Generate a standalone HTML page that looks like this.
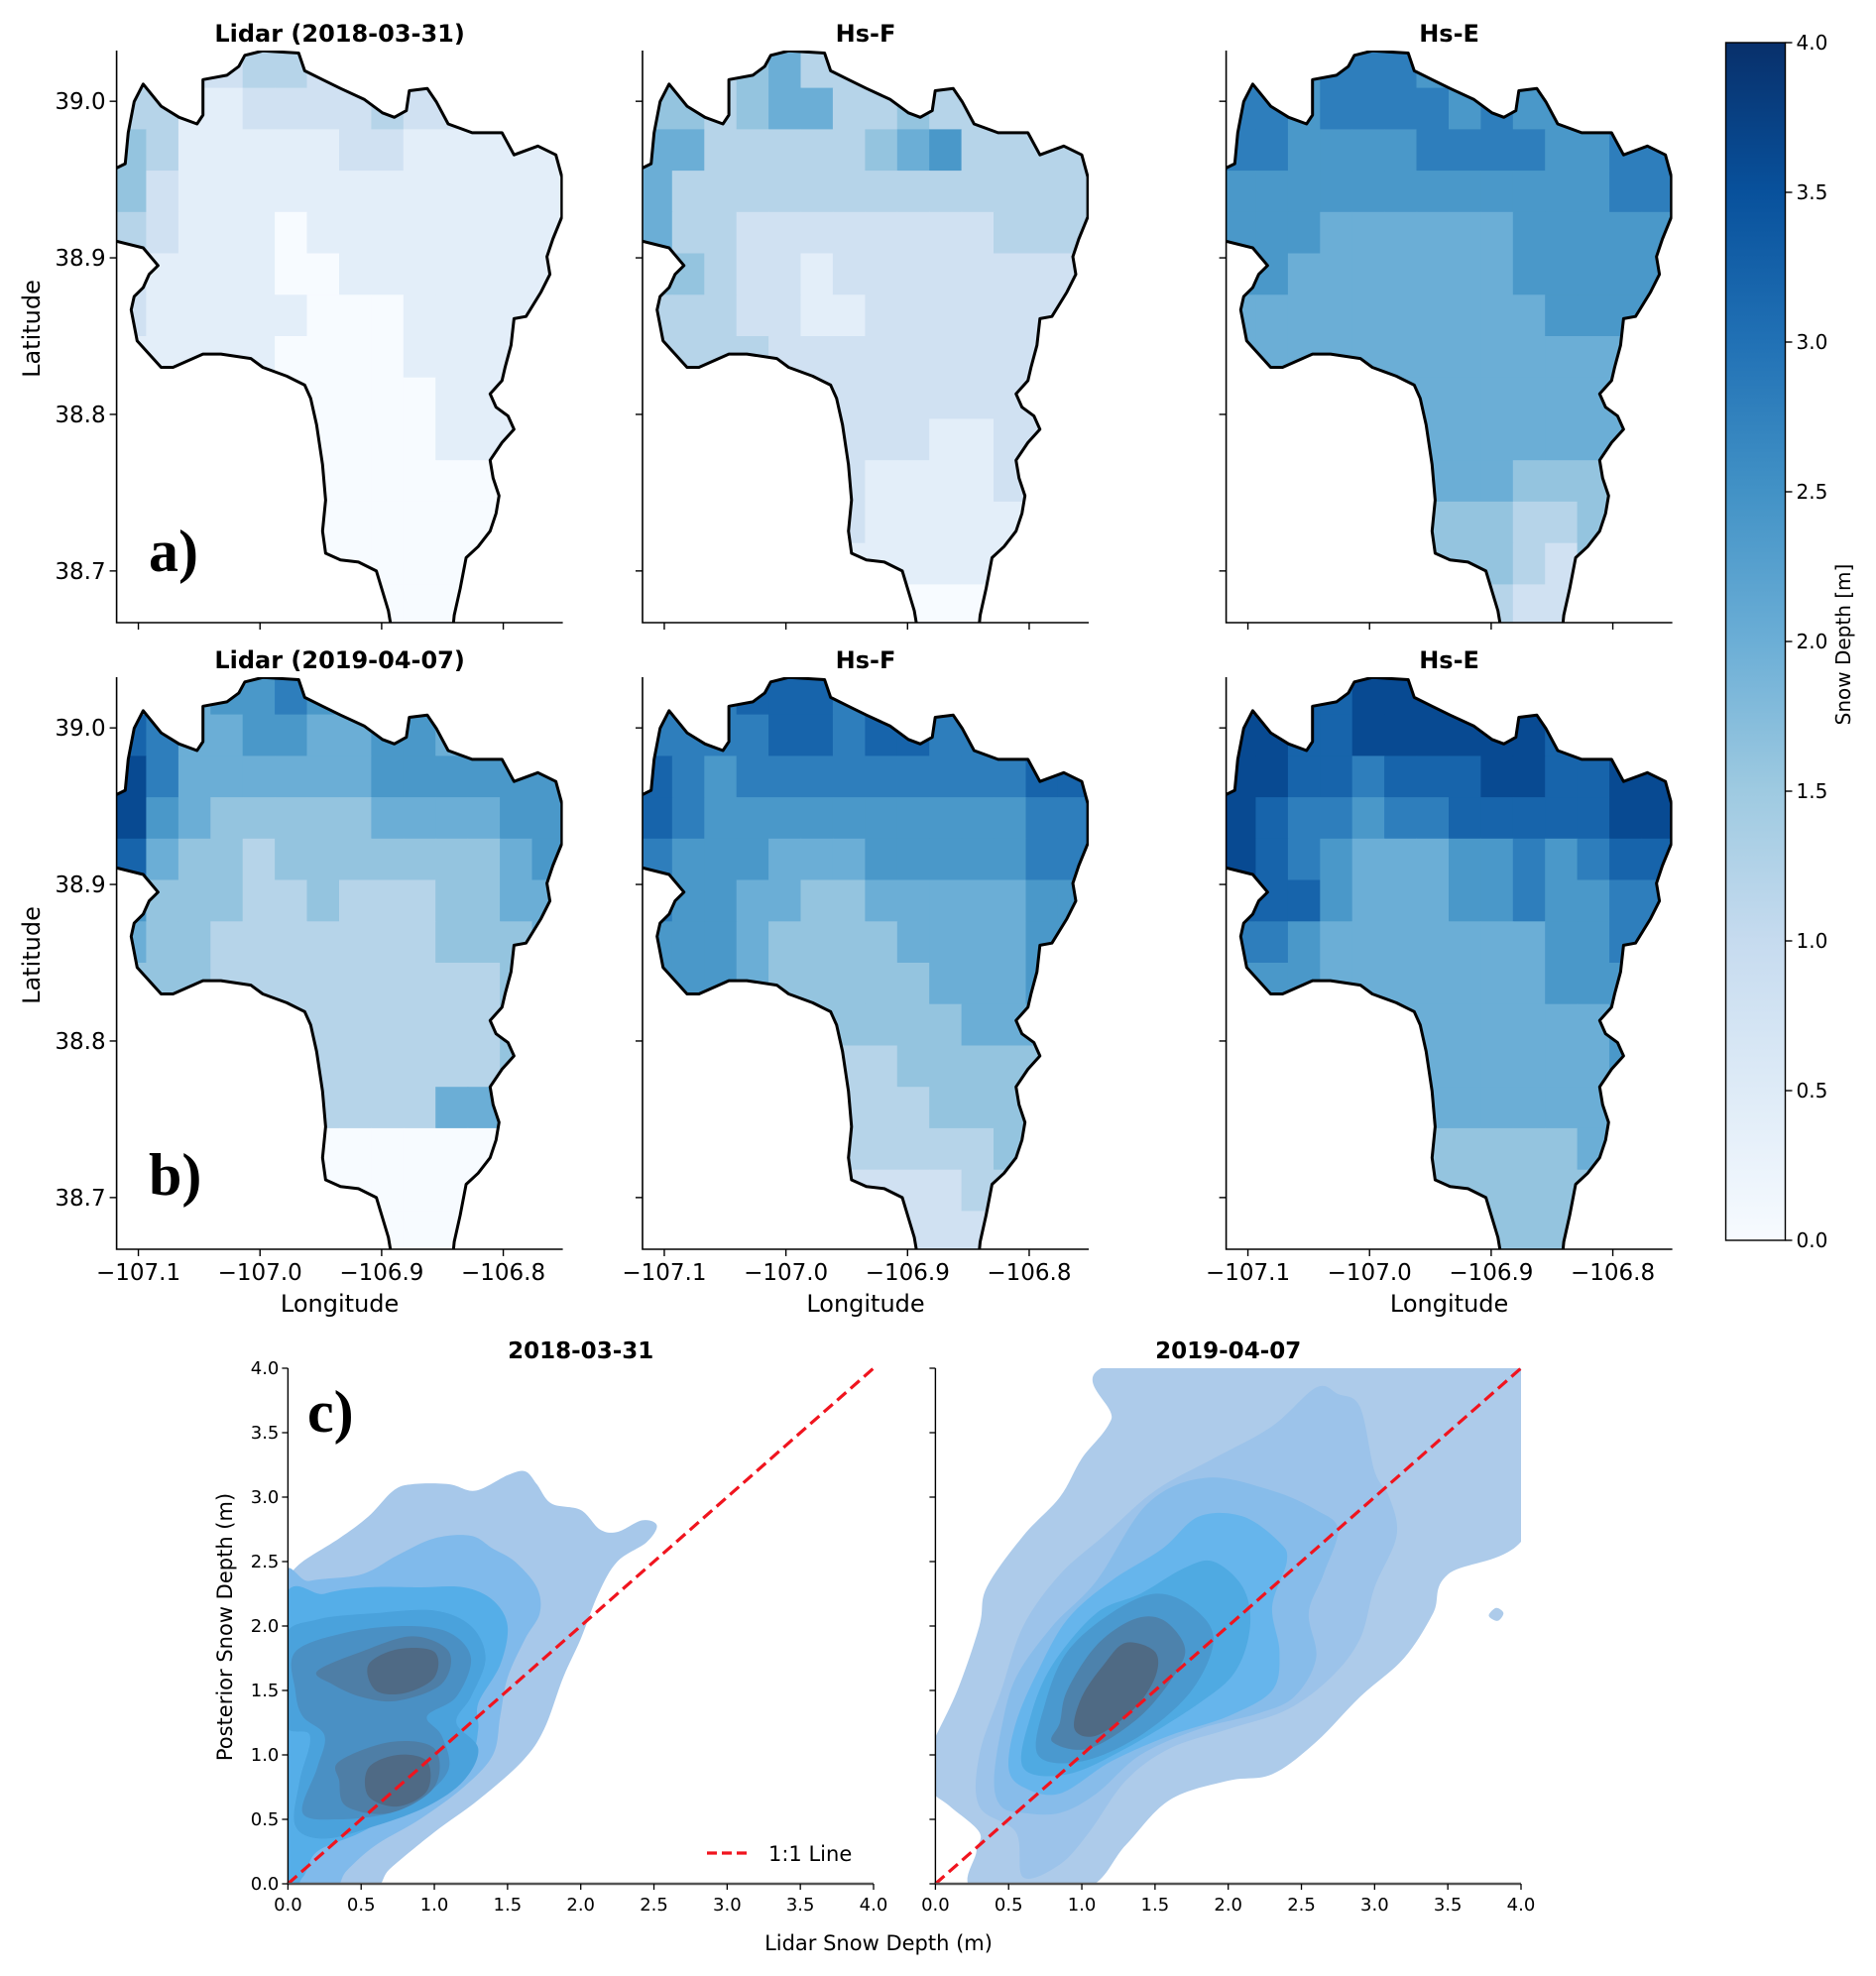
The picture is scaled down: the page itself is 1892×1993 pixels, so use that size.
<!DOCTYPE html>
<html><head><meta charset="utf-8">
<style>
html,body{margin:0;padding:0;background:#fff}
svg{display:block}
text{font-family:"DejaVu Sans","Liberation Sans",sans-serif;fill:#000}
</style></head>
<body>
<svg id="fig" width="1892" height="1993" viewBox="0 0 1892 1993" xmlns="http://www.w3.org/2000/svg">
<defs>
<linearGradient id="bluesGrad" x1="0" y1="1" x2="0" y2="0">
<stop offset="0" stop-color="#f7fbff"/><stop offset="0.125" stop-color="#deebf7"/><stop offset="0.25" stop-color="#c6dbef"/><stop offset="0.375" stop-color="#9ecae1"/><stop offset="0.5" stop-color="#6baed6"/><stop offset="0.625" stop-color="#4292c6"/><stop offset="0.75" stop-color="#2171b5"/><stop offset="0.875" stop-color="#08519c"/><stop offset="1" stop-color="#08306b"/>
</linearGradient>
</defs>
</svg>
<script>
// ---------- data ----------
const lonTicks = [-107.1, -107.0, -106.9, -106.8];
const latTicks = [38.7, 38.8, 38.9, 39.0];
const cbarTicks = [0, 0.5, 1, 1.5, 2, 2.5, 3, 3.5, 4];
const kdeTicks = [0, 0.5, 1, 1.5, 2, 2.5, 3, 3.5, 4];
const mapTitles = ["Lidar (2018-03-31)", "Hs-F", "Hs-E", "Lidar (2019-04-07)", "Hs-F", "Hs-E"];
// snow depth grids, digit d => d*0.4 m; rows north->south, cols west->east
const lidar2018 = ["11223322111111","33112222322111","43111112211111","42111111111111","32111011111111","21111001111111","21111100011111","11111000011111","11111000001111","11111000001111","00000000000000","00000000000000","00000000000000","00000000000000"];
const hsF2018 = ["33345333333333","44345533433333","55333334563333","53333333333333","53322222222333","44322122222222","33322112222222","33332222222222","22233222222222","22222222211222","22222221111222","22222221111122","11111111111111","11111111000111"];
const hsE2018 = ["66677766666666","77677776766666","77666677776677","66666666666677","66655555566666","66555555566666","55555555556666","55555555555555","55555555555555","55555555555555","44445555544444","44444444433444","44444444432444","33333333322333"];
const lidar2019 = ["55566766555555","87556655665555","97555555666666","96544444555566","85443444444456","64443343334455","54433333334445","44433333333344","44443333333344","44443333333344","33333333335533","11111100000000","00000000000000","00000000000000"];
const hsF2019 = ["77788877777777","77778878877777","87677777777788","87666666666677","76665556666677","76655445555566","66654444555566","66654444455566","55554444445555","44444433444444","44443333344444","44443333333444","33333222223333","22222222222222"];
const hsE2019 = ["88889999888888","99889999998888","99887888998899","98776778888899","98765556676788","88865556676677","77655555556677","66655555556666","66655555555566","66655555555566","55555555555555","55555444444555","44444444444444","44444444444444"];
// basin outline trace (lon/lat derived from map)
const outlineTrace = [[240,190],[270,240],[300,265],[330,280],[340,260],[340,180],[380,170],[400,150],[410,125],[440,115],[500,120],[510,160],[540,180],[570,200],[610,225],[640,255],[660,265],[680,250],[685,205],[715,200],[730,230],[750,280],[790,300],[840,300],[860,350],[900,330],[930,350],[940,400],[940,490],[925,540],[915,580],[920,620],[905,660],[880,715],[860,720],[855,780],[845,830],[840,860],[820,890],[830,920],[850,940],[860,970],[840,1000],[820,1040],[825,1080],[835,1120],[830,1160],[820,1200],[800,1235],[780,1260],[770,1330],[760,1390],[755,1460],[660,1460],[650,1380],[630,1290],[600,1270],[570,1265],[545,1250],[540,1200],[545,1130],[540,1050],[530,960],[520,900],[510,870],[480,850],[440,830],[420,810],[370,800],[340,800],[290,830],[270,830],[250,800],[230,770],[220,700],[225,670],[240,650],[250,620],[265,600],[240,560],[180,540],[180,390],[210,370],[215,300],[225,230]];
const basinLonLat = outlineTrace.map(p => [-107.1 + (p[0]/1.6575 - 140)/1226.7, 39.0 - (p[1]/2.24 - 102.2)/1579]);
// KDE contour levels (lidar depth, posterior depth)
const kde2018 = [
 [[0,2.38],[0.1,2.5],[0.35,2.68],[0.55,2.85],[0.72,3.05],[0.85,3.1],[1.1,3.1],[1.28,3.05],[1.5,3.17],[1.62,3.2],[1.7,3.1],[1.8,2.95],[2.0,2.9],[2.13,2.75],[2.25,2.73],[2.42,2.82],[2.52,2.78],[2.45,2.65],[2.25,2.5],[2.12,2.25],[2.0,1.9],[1.88,1.6],[1.75,1.2],[1.6,0.95],[1.3,0.65],[1.0,0.4],[0.7,0.12],[0.55,-0.05],[-0.05,-0.05],[-0.05,2.3]],
 [[-0.05,2.25],[0.15,2.35],[0.5,2.4],[0.75,2.55],[1.0,2.68],[1.25,2.7],[1.4,2.6],[1.55,2.5],[1.7,2.3],[1.72,2.1],[1.62,1.9],[1.5,1.6],[1.45,1.3],[1.4,1.0],[1.2,0.75],[0.9,0.5],[0.6,0.3],[0.4,0.1],[0.3,-0.05],[-0.05,-0.05]],
 [[-0.05,2.1],[0.25,2.25],[0.55,2.3],[0.9,2.3],[1.2,2.3],[1.4,2.2],[1.5,2.0],[1.45,1.7],[1.3,1.4],[1.3,1.2],[1.25,1.0],[1.05,0.8],[0.8,0.6],[0.5,0.4],[0.2,0.25],[0.1,0.05],[-0.05,-0.05]],
 [[-0.03,1.9],[0.2,2.05],[0.6,2.1],[1.0,2.12],[1.25,2.0],[1.35,1.75],[1.25,1.45],[1.15,1.25],[1.3,1.05],[1.2,0.8],[0.95,0.6],[0.6,0.45],[0.25,0.35],[0.05,0.45],[0.08,0.8],[0.15,1.15],[-0.03,1.25]],
 [[0.05,1.8],[0.4,1.95],[0.8,2.0],[1.1,1.95],[1.25,1.75],[1.15,1.45],[0.95,1.3],[1.05,1.15],[1.1,0.9],[0.95,0.7],[0.7,0.55],[0.35,0.5],[0.1,0.55],[0.2,0.9],[0.25,1.15],[0.1,1.3],[0.05,1.5]],
 [[0.2,1.65],[0.5,1.8],[0.85,1.92],[1.1,1.8],[1.05,1.55],[0.75,1.42],[0.5,1.45],[0.3,1.55]],
 [[0.35,0.95],[0.7,1.1],[1.0,1.05],[1.0,0.75],[0.7,0.55],[0.4,0.6],[0.35,0.8]],
 [[0.55,1.7],[0.75,1.82],[1.0,1.8],[1.0,1.6],[0.8,1.48],[0.6,1.5]],
 [[0.55,0.68],[0.55,0.9],[0.75,1.0],[0.95,0.95],[0.95,0.72],[0.75,0.6]]
];
const kde2018Colors = ["#a7c8ea","#80baeb","#55aee8","#4aa2dc","#4a90c4","#4e7ea6","#4e7ea6","#4f6a85","#4f6a85"];
const kde2019 = [
 [[0.27,-0.05],[0.28,0.25],[0.3,0.4],[0.1,0.6],[-0.05,0.75],[-0.05,1.0],[0.15,1.5],[0.3,2.0],[0.35,2.3],[0.6,2.7],[0.85,3.0],[1.0,3.3],[1.2,3.6],[1.3,4.05],[4.05,4.05],[4.05,2.75],[3.5,2.4],[3.4,2.1],[3.2,1.75],[2.9,1.45],[2.6,1.1],[2.3,0.85],[2.0,0.8],[1.6,0.65],[1.3,0.3],[1.0,-0.05]],
 [[0.6,0.05],[0.55,0.4],[0.3,0.6],[0.3,1.0],[0.45,1.5],[0.6,2.0],[0.85,2.4],[1.15,2.7],[1.5,3.05],[1.9,3.3],[2.3,3.55],[2.6,3.85],[2.75,3.8],[2.9,3.7],[3.0,3.2],[3.1,3.0],[3.15,2.7],[3.0,2.3],[2.9,1.9],[2.7,1.6],[2.4,1.35],[2.0,1.2],[1.6,1.05],[1.3,0.8],[1.05,0.4],[0.85,0.15]],
 [[0.45,0.6],[0.4,0.8],[0.45,1.2],[0.55,1.6],[0.8,2.0],[1.1,2.35],[1.45,2.95],[1.85,3.15],[2.3,3.05],[2.6,2.9],[2.75,2.75],[2.65,2.4],[2.55,2.1],[2.6,1.75],[2.45,1.45],[2.2,1.32],[1.8,1.2],[1.4,1.0],[1.1,0.7],[0.85,0.55],[0.6,0.55]],
 [[0.6,0.75],[0.85,0.7],[1.2,0.95],[1.6,1.15],[2.0,1.3],[2.3,1.5],[2.35,1.8],[2.3,2.15],[2.4,2.5],[2.35,2.65],[2.1,2.85],[1.8,2.85],[1.55,2.6],[1.2,2.35],[0.9,2.05],[0.7,1.65],[0.55,1.25],[0.5,0.9]],
 [[0.6,0.9],[0.9,0.85],[1.3,1.05],[1.8,1.4],[2.05,1.65],[2.15,2.0],[2.1,2.3],[1.9,2.5],[1.7,2.45],[1.4,2.25],[1.1,2.1],[0.8,1.7],[0.65,1.3]],
 [[0.7,1.0],[1.0,0.95],[1.4,1.15],[1.75,1.5],[1.9,1.9],[1.75,2.15],[1.5,2.25],[1.2,2.1],[0.9,1.8],[0.75,1.4]],
 [[0.8,1.1],[1.05,1.05],[1.4,1.3],[1.65,1.65],[1.7,1.85],[1.55,2.05],[1.35,2.05],[1.1,1.85],[0.9,1.5],[0.85,1.25]],
 [[0.95,1.2],[1.1,1.15],[1.35,1.35],[1.5,1.6],[1.5,1.8],[1.3,1.87],[1.15,1.7],[1.0,1.45]],
 [[3.78,2.08],[3.83,2.14],[3.88,2.1],[3.84,2.04]]
];
const kde2019Colors = ["#adcbea","#9cc3ea","#87bcea","#66b5ec","#4faae2","#4a99cf","#4d82ac","#4f6a84","#adcbea"];
const kdeTitles = ["2018-03-31", "2019-04-07"];

// ---------- helpers ----------
const NS = "http://www.w3.org/2000/svg";
const svg = document.getElementById("fig");
function mk(tag, attrs, parent) {
  const e = document.createElementNS(NS, tag);
  for (const k in attrs) e.setAttribute(k, attrs[k]);
  (parent || svg).appendChild(e);
  return e;
}
const BL = [[0,"#f7fbff"],[0.125,"#deebf7"],[0.25,"#c6dbef"],[0.375,"#9ecae1"],[0.5,"#6baed6"],[0.625,"#4292c6"],[0.75,"#2171b5"],[0.875,"#08519c"],[1,"#08306b"]];
function hex(h){return [parseInt(h.slice(1,3),16),parseInt(h.slice(3,5),16),parseInt(h.slice(5,7),16)];}
function blues(t){
  t = Math.max(0, Math.min(1, t));
  for (let i=0;i<BL.length-1;i++){
    if (t <= BL[i+1][0]) {
      const f = (t-BL[i][0])/(BL[i+1][0]-BL[i][0]);
      const a = hex(BL[i][1]), b = hex(BL[i+1][1]);
      return "rgb("+a.map((v,j)=>Math.round(v+(b[j]-v)*f)).join(",")+")";
    }
  }
  return BL[BL.length-1][1];
}
function fmtLon(v){return "\u2212" + Math.abs(v).toFixed(1);}

// ---------- maps ----------
const PW = 450, PH = 577;
const colLefts = [117.6, 648, 1236.6];
const rowTops = [51, 683];
const LON_MIN = -107.1179, LAT_MAX = 39.0324, XS = 1226.7, YS = 1579;
const GRID_LON0 = -107.12, GRID_LAT0 = 39.035, CELL = 0.37/14;
const grids = [lidar2018, hsF2018, hsE2018, lidar2019, hsF2019, hsE2019];

grids.forEach((grid, idx) => {
  const r = Math.floor(idx/3), c = idx%3;
  const x0 = colLefts[c], y0 = rowTops[r];
  const X = lon => x0 + (lon - LON_MIN)*XS;
  const Y = lat => y0 + (LAT_MAX - lat)*YS;
  const g = mk("g", {});
  
  
  const cpRect = mk("clipPath", {id:"cr"+idx}, svg.querySelector("defs"));
  mk("rect", {x:x0, y:y0, width:PW, height:PH}, cpRect);
  const cpB = mk("clipPath", {id:"cb"+idx}, svg.querySelector("defs"));
  const ptsStr = basinLonLat.map(p => X(p[0]).toFixed(1)+","+Y(p[1]).toFixed(1)).join(" ");
  mk("polygon", {points: ptsStr}, cpB);
  const gr = mk("g", {"clip-path":"url(#cr"+idx+")"}, g);
  const gb = mk("g", {"clip-path":"url(#cb"+idx+")"}, gr);
  grid.forEach((row, ri) => {
    for (let ci=0; ci<row.length; ci++) {
      const d = row[ci];
      if (d === ".") continue;
      const v = parseInt(d,10)*0.4;
      const lonA = GRID_LON0 + ci*CELL, latA = GRID_LAT0 - ri*CELL;
      const cell = mk("rect", {x:X(lonA).toFixed(1), y:Y(latA).toFixed(1), width:(CELL*XS+0.6).toFixed(1), height:(CELL*YS+0.6).toFixed(1), fill:blues(v/4)}, gb);
      
      
    }
  });
  const ol = mk("polygon", {points: ptsStr, fill:"none", stroke:"#000", "stroke-width":3, "stroke-linejoin":"round"}, gr);
  
  
  const sp = mk("path", {d:`M${x0},${y0}V${y0+PH}H${x0+PW}`, fill:"none", stroke:"#000", "stroke-width":1.6}, g);
  
  
  latTicks.forEach(t => {
    const yy = Y(t);
    mk("line", {x1:x0-7, x2:x0, y1:yy, y2:yy, stroke:"#000", "stroke-width":1.4}, g);
    if (c === 0) {
      const tl = mk("text", {x:x0-11, y:yy+8, "text-anchor":"end", "font-size":23}, g);
      tl.textContent = t.toFixed(1);
      
      
    }
  });
  lonTicks.forEach(t => {
    const xx = X(t);
    mk("line", {x1:xx, x2:xx, y1:y0+PH, y2:y0+PH+7, stroke:"#000", "stroke-width":1.4}, g);
    if (r === 1) {
      const tl = mk("text", {x:xx, y:y0+PH+31, "text-anchor":"middle", "font-size":23}, g);
      tl.textContent = fmtLon(t);
      
      
    }
  });
  const tt = mk("text", {x:x0+PW/2, y:y0-9, "text-anchor":"middle", "font-size":24, "font-weight":"bold"}, g);
  tt.textContent = mapTitles[idx];
  
  
  if (r === 1) {
    const xl = mk("text", {x:x0+PW/2, y:1323, "text-anchor":"middle", "font-size":24}, g);
    xl.textContent = "Longitude";
    
    
  }
  if (c === 0) {
    const cy = y0 + PH/2 - 8;
    const yl = mk("text", {x:40, y:cy, "text-anchor":"middle", "font-size":24, transform:`rotate(-90 40 ${cy})`}, g);
    yl.textContent = "Latitude";
    
    
  }
});
[["a)",150,576],["b)",150,1205]].forEach(l => {
  const t = mk("text", {x:l[1], y:l[2], "font-size":60, "font-weight":"bold", style:'font-family:"Liberation Serif",serif'});
  t.textContent = l[0];
  
  
});

// ---------- colorbar ----------
const CB = {x:1740.5, y:43, w:60, h:1208};
const cbg = mk("g", {});


mk("rect", {x:CB.x, y:CB.y, width:CB.w, height:CB.h, fill:"url(#bluesGrad)", stroke:"#000", "stroke-width":1.4}, cbg);
cbarTicks.forEach(v => {
  const yy = CB.y + CB.h - v/4*CB.h;
  mk("line", {x1:CB.x+CB.w, x2:CB.x+CB.w+7, y1:yy, y2:yy, stroke:"#000", "stroke-width":1.4}, cbg);
  const t = mk("text", {x:CB.x+CB.w+11, y:yy+7, "font-size":20}, cbg);
  t.textContent = v.toFixed(1);
  
  
});
const cbl = mk("text", {x:1866, y:650, "text-anchor":"middle", "font-size":20, transform:"rotate(-90 1866 650)"}, cbg);
cbl.textContent = "Snow Depth [m]";



// ---------- KDE panels ----------
function smoothPath(pts) {
  const n = pts.length;
  let d = `M${pts[0][0].toFixed(1)},${pts[0][1].toFixed(1)}`;
  for (let i=0;i<n;i++){
    const p0=pts[(i-1+n)%n], p1=pts[i], p2=pts[(i+1)%n], p3=pts[(i+2)%n];
    const c1=[p1[0]+(p2[0]-p0[0])/6, p1[1]+(p2[1]-p0[1])/6];
    const c2=[p2[0]-(p3[0]-p1[0])/6, p2[1]-(p3[1]-p1[1])/6];
    d += `C${c1[0].toFixed(1)},${c1[1].toFixed(1)} ${c2[0].toFixed(1)},${c2[1].toFixed(1)} ${p2[0].toFixed(1)},${p2[1].toFixed(1)}`;
  }
  return d + "Z";
}
const KP = [{x:290.4, y:1380, w:590.6, h:520}, {x:943.4, y:1380, w:590.6, h:520}];
[[kde2018, kde2018Colors], [kde2019, kde2019Colors]].forEach((set, k) => {
  const P = KP[k];
  const X = v => P.x + v/4*P.w;
  const Y = v => P.y + P.h - v/4*P.h;
  const g = mk("g", {});
  
  
  const cp = mk("clipPath", {id:"ck"+k}, svg.querySelector("defs"));
  mk("rect", {x:P.x, y:P.y, width:P.w, height:P.h}, cp);
  const gc = mk("g", {"clip-path":"url(#ck"+k+")"}, g);
  set[0].forEach((poly, li) => {
    const p = mk("path", {d:smoothPath(poly.map(q => [X(q[0]), Y(q[1])])), fill:set[1][li]}, gc);
    
    
  });
  const ln = mk("line", {x1:X(0), y1:Y(0), x2:X(4), y2:Y(4), stroke:"#f0141e", "stroke-width":3.2, "stroke-dasharray":"12 6"}, g);
  
  
  mk("path", {d:`M${P.x},${P.y}V${P.y+P.h}`, stroke:"#000", "stroke-width":1.4, fill:"none"}, g);
  mk("path", {d:`M${P.x},${P.y+P.h}H${P.x+P.w}`, stroke:"#555", "stroke-width":2.5, fill:"none"}, g);
  kdeTicks.forEach(v => {
    mk("line", {x1:P.x-6, x2:P.x, y1:Y(v), y2:Y(v), stroke:"#000", "stroke-width":1.3}, g);
    mk("line", {x1:X(v), x2:X(v), y1:P.y+P.h, y2:P.y+P.h+6, stroke:"#000", "stroke-width":1.3}, g);
    const tx = mk("text", {x:X(v), y:P.y+P.h+27, "text-anchor":"middle", "font-size":18}, g);
    tx.textContent = v.toFixed(1);
    
    
    if (k === 0) {
      const ty = mk("text", {x:P.x-9, y:Y(v)+6, "text-anchor":"end", "font-size":18}, g);
      ty.textContent = v.toFixed(1);
      
      
    }
  });
  const tt = mk("text", {x:P.x+P.w/2, y:1370, "text-anchor":"middle", "font-size":23, "font-weight":"bold"}, g);
  tt.textContent = kdeTitles[k];
  
  
});
const lg = mk("g", {});


mk("line", {x1:713, x2:757, y1:1869, y2:1869, stroke:"#f0141e", "stroke-width":3.2, "stroke-dasharray":"10 5"}, lg);
const lgt = mk("text", {x:775, y:1877, "font-size":21}, lg);
lgt.textContent = "1:1 Line";
const cl = mk("text", {x:310, y:1444, "font-size":60, "font-weight":"bold", style:'font-family:"Liberation Serif",serif'});
cl.textContent = "c)";


const kx = mk("text", {x:886, y:1967, "text-anchor":"middle", "font-size":21});
kx.textContent = "Lidar Snow Depth (m)";


const ky = mk("text", {x:234, y:1641, "text-anchor":"middle", "font-size":21, transform:"rotate(-90 234 1641)"});
ky.textContent = "Posterior Snow Depth (m)";


</script>
</body></html>
